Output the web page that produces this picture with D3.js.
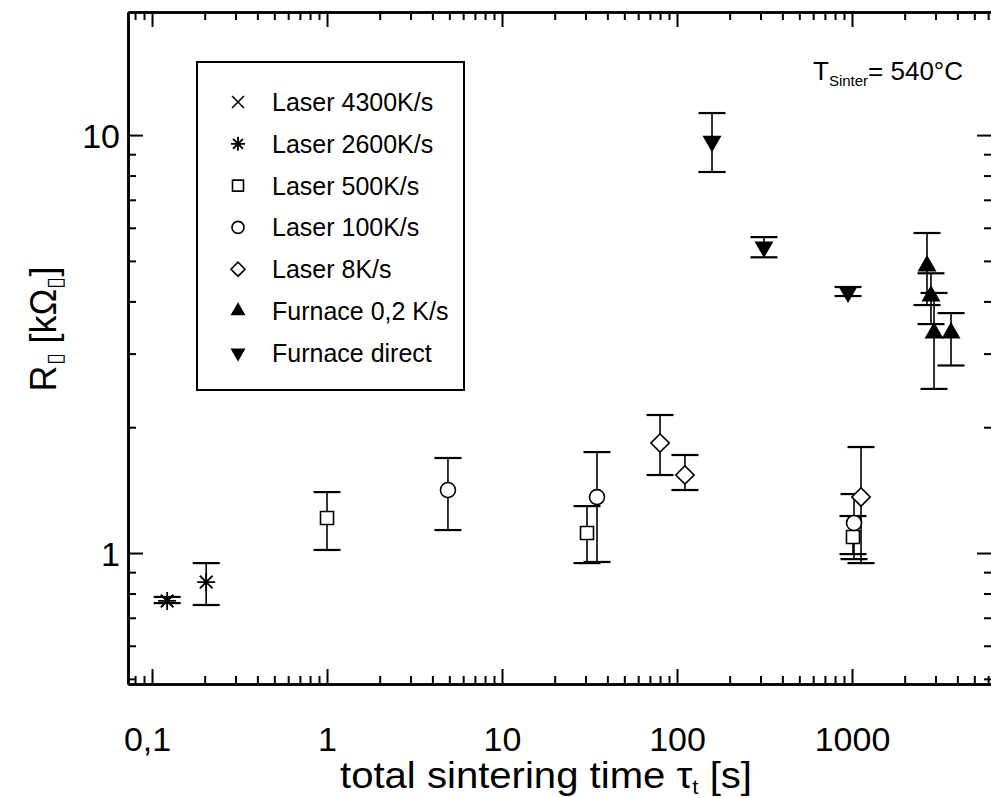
<!DOCTYPE html>
<html><head><meta charset="utf-8">
<script src="https://cdn.jsdelivr.net/npm/d3@7"></script>
<style>
html,body{margin:0;padding:0;background:#fff;}
svg{display:block;font-family:"Liberation Sans",Arial,sans-serif;}
</style></head>
<body>
<svg id="chart" width="991" height="798"></svg>
<script>
// ---------- data ----------
const seriesNames = ["Laser 4300K/s","Laser 2600K/s","Laser 500K/s","Laser 100K/s","Laser 8K/s","Furnace 0,2 K/s","Furnace direct"];

const laser4300_t = [0.122];
const laser4300_R = [0.768];
const laser4300_lo = [0.768];
const laser4300_hi = [0.768];

const laser2600_t  = [0.122, 0.204];
const laser2600_R  = [0.768, 0.852];
const laser2600_lo = [0.759, 0.751];
const laser2600_hi = [0.785, 0.946];

const laser500_t  = [1.0, 30.6, 1013];
const laser500_R  = [1.213, 1.117, 1.092];
const laser500_lo = [1.017, 0.946, 0.994];
const laser500_hi = [1.399, 1.295, 1.226];

const laser100_t  = [4.91, 34.9, 1027];
const laser100_R  = [1.415, 1.361, 1.18];
const laser100_lo = [1.135, 0.952, 0.967];
const laser100_hi = [1.688, 1.744, 1.384];

const laser8_t  = [80, 111, 1126];
const laser8_R  = [1.833, 1.537, 1.361];
const laser8_lo = [1.537, 1.415, 0.946];
const laser8_hi = [2.139, 1.716, 1.793];

const furnace02_t  = [2683, 2827, 2943, 3680];
const furnace02_R  = [4.86, 4.12, 3.36, 3.36];
const furnace02_lo = [3.92, 3.53, 2.47, 2.81];
const furnace02_hi = [5.83, 4.67, 4.19, 3.75];

const furnaceDirect_t  = [158.5, 314, 949];
const furnaceDirect_R  = [9.67, 5.40, 4.21];
const furnaceDirect_lo = [8.16, 5.10, 4.12];
const furnaceDirect_hi = [11.29, 5.70, 4.33];

const xTickValues = [0.1, 1, 10, 100, 1000];
const xTickLabels = ["0,1", "1", "10", "100", "1000"];
const yTickValues = [1, 10];
const yTickLabels = ["1", "10"];
const xDomain = [0.0729, 6310];
const yDomain = [0.486, 19.7];

// ---------- setup ----------
const svg = d3.select("#chart");
svg.append("rect").attr("width",991).attr("height",798).attr("fill","#fff");

const L = 128, R = 992, T = 12, B = 684;
const x = d3.scaleLog().domain(xDomain).range([L, R]);
const y = d3.scaleLog().domain(yDomain).range([B, T]);

const xMinor = [];
for (let e = -2; e <= 3; e++) for (let m = 2; m <= 9; m++) {
  const v = m * Math.pow(10, e);
  if (v > xDomain[0] && v < xDomain[1]) xMinor.push(v);
}
const yMinor = [];
for (let e = -1; e <= 1; e++) for (let m = 2; m <= 9; m++) {
  const v = m * Math.pow(10, e);
  if (v > yDomain[0] && v < yDomain[1]) yMinor.push(v);
}

function styleAxis(g){
  g.select(".domain").attr("stroke","#000").attr("stroke-width",2.6);
  g.selectAll(".tick line").attr("stroke","#000").attr("stroke-width",2);
}

// minor ticks
const axMinor = [
  [d3.axisBottom(x), `translate(0,${B})`, xMinor],
  [d3.axisTop(x), `translate(0,${T})`, xMinor],
  [d3.axisLeft(y), `translate(${L},0)`, yMinor],
  [d3.axisRight(y), `translate(${R},0)`, yMinor]
];
axMinor.forEach(([ax, tr, vals]) => {
  const g = svg.append("g").attr("transform", tr)
    .call(ax.tickValues(vals).tickSize(-8).tickSizeOuter(0).tickFormat(""));
  styleAxis(g);
});

// major ticks + labels
const gxB = svg.append("g").attr("transform",`translate(0,${B})`)
  .call(d3.axisBottom(x).tickValues(xTickValues).tickSize(-15).tickSizeOuter(0)
    .tickFormat((d,i)=>xTickLabels[i]));
styleAxis(gxB);
gxB.selectAll("text").attr("y", 67).attr("dy", 0).attr("font-size", 34)
  .attr("font-family","Liberation Sans, Arial, sans-serif").attr("fill","#000");
gxB.select(".tick text").attr("dx", -5);

const gxT = svg.append("g").attr("transform",`translate(0,${T})`)
  .call(d3.axisTop(x).tickValues(xTickValues).tickSize(-15).tickSizeOuter(0).tickFormat(""));
styleAxis(gxT);

const gyL = svg.append("g").attr("transform",`translate(${L},0)`)
  .call(d3.axisLeft(y).tickValues(yTickValues).tickSize(-15).tickSizeOuter(0)
    .tickFormat((d,i)=>yTickLabels[i]).tickPadding(8));
styleAxis(gyL);
gyL.selectAll("text").attr("font-size", 34).attr("dy","0.36em")
  .attr("font-family","Liberation Sans, Arial, sans-serif").attr("fill","#000");

const gyR = svg.append("g").attr("transform",`translate(${R},0)`)
  .call(d3.axisRight(y).tickValues(yTickValues).tickSize(-15).tickSizeOuter(0).tickFormat(""));
styleAxis(gyR);

// ---------- axis titles ----------
const xt = svg.append("text").attr("x", 546).attr("y", 788)
  .attr("text-anchor","middle").attr("font-size", 36).attr("fill","#000")
  .attr("textLength", 412).attr("lengthAdjust","spacingAndGlyphs");
xt.append("tspan").text("total sintering time τ");
xt.append("tspan").attr("font-size", 20).attr("dy", 6).text("t");
xt.append("tspan").attr("dy", -6).text(" [s]");

const yt = svg.append("text").attr("transform","translate(56,329) rotate(-90)")
  .attr("text-anchor","middle").attr("font-size", 36).attr("fill","#000");
yt.append("tspan").text("R");
yt.append("tspan").attr("font-size", 22).attr("dy", 6).text("▯");
yt.append("tspan").attr("dy", -6).text(" [kΩ");
yt.append("tspan").attr("font-size", 22).attr("dy", 6).text("▯");
yt.append("tspan").attr("dy", -6).text("]");

// annotation
const ann = svg.append("text").attr("x", 813).attr("y", 80).attr("font-size", 26).attr("fill","#000");
ann.append("tspan").text("T");
ann.append("tspan").attr("font-size", 15).attr("dy", 6).text("Sinter");
ann.append("tspan").attr("dy", -6).text("= 540°C");

// ---------- symbols ----------
function asteriskPath(s){
  const r = s/2, p = [];
  for (let k = 0; k < 4; k++){
    const a = Math.PI/2 + k*Math.PI/4;
    p.push(`M${(-r*Math.cos(a)).toFixed(2)},${(-r*Math.sin(a)).toFixed(2)}L${(r*Math.cos(a)).toFixed(2)},${(r*Math.sin(a)).toFixed(2)}`);
  }
  return p.join("");
}
function crossPath(s){ const r=s/2; return `M${-r},${-r}L${r},${r}M${-r},${r}L${r},${-r}`; }
const sq = s => d3.symbol(d3.symbolSquare, s*s)();
const circ = s => d3.symbol(d3.symbolCircle, Math.PI*s*s/4)();
const diam = s => d3.symbol(d3.symbolSquare, s*s/2)();
const tri = s => d3.symbol(d3.symbolTriangle, Math.sqrt(3)/4*s*s)();

const series = [
  {name:seriesNames[0], t:laser4300_t, r:laser4300_R, lo:laser4300_lo, hi:laser4300_hi, kind:"cross", size:16, err:false},
  {name:seriesNames[1], t:laser2600_t, r:laser2600_R, lo:laser2600_lo, hi:laser2600_hi, kind:"ast", size:18, err:true},
  {name:seriesNames[2], t:laser500_t, r:laser500_R, lo:laser500_lo, hi:laser500_hi, kind:"sq", size:13, err:true},
  {name:seriesNames[3], t:laser100_t, r:laser100_R, lo:laser100_lo, hi:laser100_hi, kind:"circ", size:15, err:true},
  {name:seriesNames[4], t:laser8_t, r:laser8_R, lo:laser8_lo, hi:laser8_hi, kind:"diam", size:13, err:true},
  {name:seriesNames[5], t:furnace02_t, r:furnace02_R, lo:furnace02_lo, hi:furnace02_hi, kind:"up", size:19, err:true},
  {name:seriesNames[6], t:furnaceDirect_t, r:furnaceDirect_R, lo:furnaceDirect_lo, hi:furnaceDirect_hi, kind:"down", size:19, err:true}
];

function drawMarker(g, kind, size, cx, cy){
  const tr = `translate(${cx},${cy})`;
  if (kind === "cross") g.append("path").attr("d", crossPath(size*0.7)).attr("transform",tr).attr("stroke","#000").attr("stroke-width",1.6).attr("fill","none");
  else if (kind === "ast") g.append("path").attr("d", asteriskPath(size)).attr("transform",tr).attr("stroke","#000").attr("stroke-width",1.8).attr("fill","none");
  else if (kind === "sq") g.append("path").attr("d", sq(size)).attr("transform",tr).attr("stroke","#000").attr("stroke-width",1.6).attr("fill","#fff");
  else if (kind === "circ") g.append("path").attr("d", circ(size)).attr("transform",tr).attr("stroke","#000").attr("stroke-width",1.6).attr("fill","#fff");
  else if (kind === "diam") g.append("path").attr("d", diam(size*1.41)).attr("transform",tr+" rotate(45)").attr("stroke","#000").attr("stroke-width",1.6).attr("fill","#fff");
  else if (kind === "up") g.append("path").attr("d", tri(size)).attr("transform",tr).attr("fill","#000");
  else if (kind === "down") g.append("path").attr("d", tri(size)).attr("transform",tr+" rotate(180)").attr("fill","#000");
}

// error bars
const errG = svg.append("g");
const capW = 27;
series.forEach(s => {
  if (!s.err) return;
  s.t.forEach((tv, i) => {
    const cx = x(tv);
    errG.append("line").attr("x1",cx).attr("x2",cx).attr("y1",y(s.lo[i])).attr("y2",y(s.hi[i]))
      .attr("stroke","#000").attr("stroke-width",1.6);
    [s.lo[i], s.hi[i]].forEach(v => {
      errG.append("line").attr("x1",cx-capW/2).attr("x2",cx+capW/2).attr("y1",y(v)).attr("y2",y(v))
        .attr("stroke","#000").attr("stroke-width",2.2);
    });
  });
});

// markers
const mG = svg.append("g");
series.forEach(s => {
  s.t.forEach((tv, i) => drawMarker(mG, s.kind, s.size, x(tv), y(s.r[i])));
});

// ---------- legend ----------
const lg = svg.append("g");
lg.append("rect").attr("x",197).attr("y",62).attr("width",267).attr("height",328)
  .attr("fill","#fff").attr("stroke","#000").attr("stroke-width",2);
const legendSizes = {cross:17, ast:14, sq:11, circ:12, diam:10, up:15, down:15};
series.forEach((s, i) => {
  const cy = 102 + i*41.8;
  drawMarker(lg, s.kind, legendSizes[s.kind], 238, cy);
  lg.append("text").attr("x", 272).attr("y", cy + 9).attr("font-size", 25).attr("fill","#000")
    .text(s.name);
});
</script>
</body></html>
